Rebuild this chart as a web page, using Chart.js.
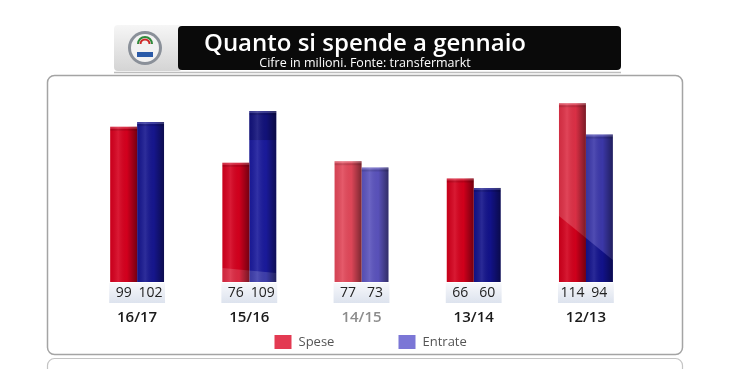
<!DOCTYPE html>
<html><head><meta charset="utf-8">
<script src="https://cdn.jsdelivr.net/npm/chart.js@4"></script>
<style>html,body{margin:0;padding:0;background:#fff;}canvas{display:block;}</style>
</head><body>
<canvas id="c" width="730" height="369"></canvas>
<script>
const categories = ['16/17', '15/16', '14/15', '13/14', '12/13'];
const spese = [99, 76, 77, 66, 114];
const entrate = [102, 109, 73, 60, 94];
const seriesNames = ['Spese', 'Entrate'];
const titleText = 'Quanto si spende a gennaio';
const subtitleText = 'Cifre in milioni. Fonte: transfermarkt';
const yMax = 120;

const speseColors = ['#d6001e', '#d4001e', '#e2485a', '#d4001c', '#dd3046'];
const entrateColors = ['#16168f', '#1a1a9c', '#5b53bd', '#12128a', '#3c38aa'];
const legendColors = ['#e33a52', '#7b76d6'];
const FONT = "'Open Sans', sans-serif";

function roundRect(ctx, x, y, w, h, r) {
  ctx.beginPath();
  ctx.moveTo(x + r, y);
  ctx.arcTo(x + w, y, x + w, y + h, r);
  ctx.arcTo(x + w, y + h, x, y + h, r);
  ctx.arcTo(x, y + h, x, y, r);
  ctx.arcTo(x, y, x + w, y, r);
  ctx.closePath();
}

const decor = {
  id: 'decor',
  beforeDraw(chart) {
    const ctx = chart.ctx;
    ctx.save();
    ctx.strokeStyle = '#a4a4a4'; ctx.lineWidth = 1.5;
    roundRect(ctx, 47.5, 75.5, 635, 279, 7); ctx.stroke();
    ctx.strokeStyle = '#c4c4c4'; ctx.lineWidth = 1.2;
    roundRect(ctx, 47.5, 358.5, 635, 40, 7); ctx.stroke();
    const g = ctx.createLinearGradient(0, 25, 0, 71);
    g.addColorStop(0, '#f6f6f6'); g.addColorStop(1, '#d4d4d4');
    ctx.fillStyle = g; roundRect(ctx, 114, 25, 68, 46, 4); ctx.fill();
    ctx.beginPath(); ctx.arc(145, 48, 17, 0, Math.PI * 2);
    ctx.fillStyle = '#8a9099'; ctx.fill();
    ctx.beginPath(); ctx.arc(145, 48, 14, 0, Math.PI * 2);
    ctx.fillStyle = '#f2f2f2'; ctx.fill();
    ctx.beginPath(); ctx.arc(145, 44, 7, Math.PI, 0);
    ctx.strokeStyle = '#2f8a3a'; ctx.lineWidth = 2; ctx.stroke();
    ctx.beginPath(); ctx.arc(145, 44, 4.5, Math.PI, 0);
    ctx.strokeStyle = '#d02828'; ctx.lineWidth = 2; ctx.stroke();
    ctx.fillStyle = '#2a5aa8'; ctx.fillRect(137, 52, 16, 5);
    ctx.fillStyle = '#0a0a0a'; roundRect(ctx, 178, 26, 443, 44, 4); ctx.fill();
    ctx.strokeStyle = '#bdbdbd'; ctx.lineWidth = 1.5;
    ctx.beginPath(); ctx.moveTo(114, 72.5); ctx.lineTo(621, 72.5); ctx.stroke();
    ctx.restore();
  }
};

const barFx = {
  id: 'barFx',
  afterDatasetsDraw(chart) {
    const ctx = chart.ctx;
    const ca = chart.chartArea;
    const m0 = chart.getDatasetMeta(0).data;
    const m1 = chart.getDatasetMeta(1).data;
    ctx.save();
    const last = categories.length - 1;
    {
      const r = m0[last], b = m1[last];
      const L = r.x - r.width / 2, R = b.x + b.width / 2;
      const yL = r.base - 66, yR = b.base - 22;
      const poly = () => { ctx.beginPath(); ctx.moveTo(L, yL); ctx.lineTo(R, yR); ctx.lineTo(R, r.base); ctx.lineTo(L, r.base); ctx.closePath(); };
      ctx.save(); ctx.beginPath(); ctx.rect(L, r.y, r.width, r.base - r.y); ctx.clip(); poly(); ctx.fillStyle = '#d2001c'; ctx.fill(); ctx.restore();
      ctx.save(); ctx.beginPath(); ctx.rect(b.x - b.width / 2, b.y, b.width, b.base - b.y); ctx.clip(); poly(); ctx.fillStyle = '#12128c'; ctx.fill(); ctx.restore();
    }
    {
      const b = m1[1];
      ctx.fillStyle = 'rgba(0,0,40,0.28)';
      ctx.fillRect(b.x - b.width / 2, b.y, b.width, 29);
      const r = m0[1];
      const L = r.x - r.width / 2, R = b.x + b.width / 2;
      ctx.beginPath(); ctx.moveTo(L, r.base - 14); ctx.lineTo(R, r.base - 9); ctx.lineTo(R, r.base); ctx.lineTo(L, r.base); ctx.closePath();
      ctx.fillStyle = 'rgba(255,255,255,0.16)'; ctx.fill();
    }
    [m0, m1].forEach((meta) => {
      meta.forEach((el) => {
        const L = el.x - el.width / 2, W = el.width;
        const g = ctx.createLinearGradient(L, 0, L + W, 0);
        g.addColorStop(0, 'rgba(0,0,0,0.06)');
        g.addColorStop(0.3, 'rgba(255,255,255,0.10)');
        g.addColorStop(0.62, 'rgba(0,0,0,0.02)');
        g.addColorStop(0.85, 'rgba(0,0,0,0.28)');
        g.addColorStop(1, 'rgba(0,0,0,0.45)');
        ctx.fillStyle = g;
        ctx.fillRect(L, el.y, W, el.base - el.y);
        ctx.fillStyle = 'rgba(255,255,255,0.18)';
        ctx.fillRect(L, el.y, W, 2);
        ctx.fillStyle = 'rgba(0,0,0,0.12)';
        ctx.fillRect(L, el.y + 2, W, 2);
      });
    });
    categories.forEach((c, i) => {
      const r = m0[i], b = m1[i];
      const L = r.x - r.width / 2 - 1, R = b.x + b.width / 2 + 1;
      const top = ca.bottom + 1, h = 20;
      const g = ctx.createLinearGradient(0, top, 0, top + h);
      g.addColorStop(0, '#f7f8fb'); g.addColorStop(1, '#dde3ee');
      ctx.fillStyle = g; ctx.fillRect(L, top, R - L, h);
      ctx.fillStyle = '#222';
      ctx.font = "14px " + FONT;
      ctx.textAlign = 'center'; ctx.textBaseline = 'middle';
      ctx.fillText(String(spese[i]), r.x, top + 10);
      ctx.fillText(String(entrate[i]), b.x, top + 10);
    });
    ctx.restore();
  }
};

const legendFx = {
  id: 'legendFx',
  afterDraw(chart) {
    const ctx = chart.ctx;
    const ca = chart.chartArea;
    const cx = (ca.left + ca.right) / 2;
    const items = [{x: cx - 87, c: legendColors[0], t: seriesNames[0]}, {x: cx + 37, c: legendColors[1], t: seriesNames[1]}];
    ctx.save();
    ctx.font = "13px " + FONT; ctx.textBaseline = 'middle'; ctx.textAlign = 'left';
    items.forEach(it => {
      ctx.fillStyle = it.c; ctx.fillRect(it.x, 335, 17, 14);
      ctx.fillStyle = '#555'; ctx.fillText(it.t, it.x + 24, 342);
    });
    ctx.restore();
  }
};

new Chart(document.getElementById('c'), {
  type: 'bar',
  data: {
    labels: categories,
    datasets: [
      {label: seriesNames[0], data: spese, backgroundColor: speseColors, borderWidth: 0},
      {label: seriesNames[1], data: entrate, backgroundColor: entrateColors, borderWidth: 0}
    ]
  },
  options: {
    responsive: false,
    animation: false,
    devicePixelRatio: 1,
    categoryPercentage: 0.48,
    barPercentage: 1.0,
    layout: {padding: {left: 81, right: 81, top: 20, bottom: 0}},
    plugins: {
      legend: {display: false},
      tooltip: {enabled: false},
      title: {display: true, text: titleText, color: '#ffffff',
        font: {family: FONT, size: 24, weight: '600', lineHeight: 1.0}, padding: {top: 12, bottom: 0}},
      subtitle: {display: true, text: subtitleText, color: '#ffffff',
        font: {family: FONT, size: 12.5, weight: '400', lineHeight: 1.2}, padding: {top: 0, bottom: 22.8}}
    },
    scales: {
      x: {
        grid: {display: false, drawTicks: false}, border: {display: false},
        ticks: {padding: 27, font: {family: FONT, size: 15, weight: '600'},
          color: (ctx) => ctx.index === 2 ? '#8c8c8c' : '#1a1a1a'},
        afterFit: (s) => { s.height = 87; }
      },
      y: {
        position: 'right', min: 0, max: yMax,
        grid: {display: false}, border: {display: false}, ticks: {display: false},
        afterFit: (s) => { s.width = 7; }
      }
    }
  },
  plugins: [decor, barFx, legendFx]
});
</script>
</body></html>
